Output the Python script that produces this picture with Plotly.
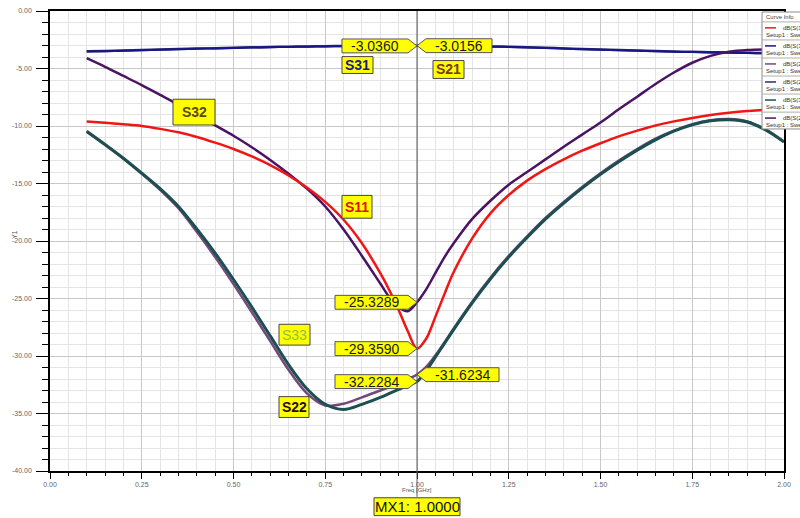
import plotly.graph_objects as go

# ---------------- data ----------------
freq = [0.10, 0.15, 0.20, 0.25, 0.30, 0.35, 0.40, 0.45, 0.50, 0.55, 0.60, 0.65, 0.70, 0.75,
        0.80, 0.85, 0.90, 0.925, 0.95, 0.975, 1.00, 1.025, 1.05, 1.075, 1.10, 1.15, 1.20,
        1.25, 1.30, 1.35, 1.40, 1.45, 1.50, 1.55, 1.60, 1.65, 1.70, 1.75, 1.80, 1.85, 1.90,
        1.95, 2.00]

s11 = [-9.6, -9.72, -9.85, -10.0, -10.25, -10.55, -10.95, -11.45, -12.0, -12.65, -13.4, -14.3,
       -15.35, -16.6, -18.15, -20.2, -22.8, -24.3, -26.0, -27.85, -29.36, -28.5, -26.6, -24.6,
       -22.7, -19.8, -17.6, -16.0, -14.75, -13.75, -12.9, -12.15, -11.5, -10.9, -10.4, -9.95,
       -9.6, -9.3, -9.05, -8.85, -8.7, -8.6, -8.5]

s31 = [-3.53, -3.49, -3.45, -3.41, -3.37, -3.33, -3.29, -3.25, -3.21, -3.18, -3.15, -3.12,
       -3.10, -3.08, -3.06, -3.05, -3.04, -3.04, -3.037, -3.036, -3.036, -3.037, -3.04, -3.045,
       -3.05, -3.07, -3.10, -3.13, -3.17, -3.22, -3.27, -3.32, -3.37, -3.42, -3.46, -3.50,
       -3.54, -3.57, -3.60, -3.63, -3.66, -3.68, -3.70]

s21 = [-3.51, -3.47, -3.43, -3.39, -3.35, -3.31, -3.27, -3.23, -3.19, -3.16, -3.13, -3.10,
       -3.08, -3.06, -3.04, -3.03, -3.02, -3.02, -3.017, -3.016, -3.0156, -3.017, -3.02, -3.025,
       -3.03, -3.05, -3.08, -3.11, -3.15, -3.20, -3.25, -3.30, -3.35, -3.40, -3.44, -3.48,
       -3.52, -3.55, -3.58, -3.61, -3.64, -3.66, -3.68]

s32 = [-4.1, -4.85, -5.65, -6.45, -7.3, -8.15, -9.05, -9.95, -10.85, -11.85, -12.95, -14.15,
       -15.45, -17.0, -19.0, -21.3, -23.7, -24.9, -25.75, -26.1, -25.33, -24.2, -22.8, -21.4,
       -20.2, -18.1, -16.5, -15.1, -14.0, -12.9, -11.8, -10.75, -9.7, -8.55, -7.45, -6.35,
       -5.35, -4.5, -3.9, -3.55, -3.4, -3.35, -3.35]

s22 = [-10.5, -11.65, -12.85, -14.15, -15.55, -17.15, -19.2, -21.4, -23.75, -26.2, -28.7,
       -31.2, -33.25, -34.3, -34.15, -33.6, -33.0, -32.7, -32.35, -32.0, -31.62, -30.95, -29.95,
       -28.8, -27.6, -25.3, -23.2, -21.3, -19.6, -18.0, -16.6, -15.3, -14.1, -13.0, -12.0,
       -11.1, -10.4, -9.85, -9.5, -9.4, -9.6, -10.3, -11.35]

s33 = [-10.45, -11.6, -12.8, -14.1, -15.45, -17.0, -18.95, -21.05, -23.35, -25.75, -28.25, -30.75,
       -32.85, -34.2, -34.65, -34.2, -33.6, -33.25, -32.9, -32.55, -32.23, -31.3, -30.1, -28.9,
       -27.7, -25.4, -23.3, -21.4, -19.7, -18.1, -16.7, -15.4, -14.2, -13.1, -12.1, -11.2,
       -10.45, -9.9, -9.55, -9.45, -9.65, -10.35, -11.4]

marker_freq = 1.0
marker_names = ["S31", "S21", "S32", "S11", "S33", "S22"]
marker_values = [-3.0360, -3.0156, -25.3289, -29.3590, -32.2284, -31.6234]
marker_sides = ["left", "right", "left", "left", "left", "right"]

x_tick_vals = [0.0, 0.25, 0.5, 0.75, 1.0, 1.25, 1.5, 1.75, 2.0]
x_tick_text = ["0.00", "0.25", "0.50", "0.75", "1.00", "1.25", "1.50", "1.75", "2.00"]
y_tick_vals = [0, -5, -10, -15, -20, -25, -30, -35, -40]
y_tick_text = ["0.00", "-5.00", "-10.00", "-15.00", "-20.00", "-25.00", "-30.00", "-35.00", "-40.00"]

legend_names = ["dB(S(1,1))", "dB(S(3,1))", "dB(S(2,2))", "dB(S(2,1))", "dB(S(3,3))", "dB(S(2,3))"]
legend_sweep = "Setup1 : Sweep"

# ---------------- styling ----------------
C_S11 = "#f01616"
C_S31 = "#16168a"
C_S21 = "#2c2c6a"
C_S32 = "#4a1363"
C_S22 = "#74487a"
C_S33 = "#1c4f50"
FONT = "Liberation Sans, Arial, sans-serif"

W, H = 800, 518
L, R, T, B = 50, 16, 7, 47
PW, PH = W - L - R, H - T - B
XR = (0.0, 2.0)
YR = (-40.0, 0.0)


def px(x, y):
    return (x - L) / PW, 1 - (y - T) / PH


def data_to_px(xv, yv):
    return (L + (xv - XR[0]) / (XR[1] - XR[0]) * PW,
            T + (YR[1] - yv) / (YR[1] - YR[0]) * PH)


fig = go.Figure()
series = [(s22, C_S22, 2.5), (s33, C_S33, 3.0), (s21, C_S21, 2.5), (s31, C_S31, 2.0),
          (s32, C_S32, 2.5), (s11, C_S11, 2.5)]
for ys, col, wdt in series:
    fig.add_trace(go.Scatter(x=freq, y=ys, mode="lines",
                             line=dict(color=col, width=wdt, shape="spline", smoothing=0.9),
                             showlegend=False, hoverinfo="skip"))

shapes = []
annotations = []

# marker vertical line
x_m, _ = px(data_to_px(marker_freq, 0)[0], 0)
shapes.append(dict(type="line", xref="paper", yref="paper", x0=x_m, x1=x_m,
                   y0=px(0, 497)[1], y1=1, line=dict(color="#5a5a5a", width=1)))

# marker value tags
for name, val, side in zip(marker_names, marker_values, marker_sides):
    tx, ty = data_to_px(marker_freq, val)
    txt = f"{val:.4f}"
    w = 7 * len(txt) + 17
    h = 14
    tp = 9
    sgn = -1 if side == "left" else 1
    pts = [(tx, ty), (tx + sgn * tp, ty - h / 2), (tx + sgn * (tp + w), ty - h / 2),
           (tx + sgn * (tp + w), ty + h / 2), (tx + sgn * tp, ty + h / 2)]
    pp = [px(a, b) for a, b in pts]
    path = "M " + " L ".join(f"{a:.5f},{b:.5f}" for a, b in pp) + " Z"
    shapes.append(dict(type="path", xref="paper", yref="paper", path=path,
                       fillcolor="#ffff00", line=dict(color="#555555", width=1)))
    cx, cy = px(tx + sgn * (tp + w / 2), ty)
    annotations.append(dict(x=cx, y=cy, xref="paper", yref="paper", text=txt, showarrow=False,
                            xanchor="center", yanchor="middle",
                            font=dict(family=FONT, size=14, color="#1a1a1a")))

# curve name tags (pixel boxes)
name_tags = [("S32", "#5c4a0a", True, 173, 96, 215, 122),
             ("S31", "#1a1a8c", True, 342, 53, 373, 70),
             ("S21", "#7a3a1f", True, 433, 57, 464, 75),
             ("S11", "#e01010", True, 342, 193, 372, 216),
             ("S33", "#8cc43c", False, 279, 323, 310, 344),
             ("S22", "#2a0a0a", True, 279, 396, 309, 417)]
for txt, col, bold, x0, y0, x1, y1 in name_tags:
    a0, b0 = px(x0, y0)
    a1, b1 = px(x1, y1)
    shapes.append(dict(type="rect", xref="paper", yref="paper", x0=a0, x1=a1, y0=b1, y1=b0,
                       fillcolor="#ffff00", line=dict(color="#444444", width=1)))
    cx, cy = px((x0 + x1) / 2, (y0 + y1) / 2)
    annotations.append(dict(x=cx, y=cy, xref="paper", yref="paper",
                            text=f"<b>{txt}</b>" if bold else txt, showarrow=False,
                            xanchor="center", yanchor="middle",
                            font=dict(family=FONT, size=14, color=col)))

# MX1 box
a0, b0 = px(374, 498)
a1, b1 = px(460, 516)
shapes.append(dict(type="rect", xref="paper", yref="paper", x0=a0, x1=a1, y0=b1, y1=b0,
                   fillcolor="#ffff00", line=dict(color="#444444", width=1)))
cx, cy = px(417, 507)
annotations.append(dict(x=cx, y=cy, xref="paper", yref="paper", text=f"MX1: {marker_freq:.4f}",
                        showarrow=False, xanchor="center", yanchor="middle",
                        font=dict(family=FONT, size=15, color="#111111")))

# custom legend box ("Curve Info")
a0, b0 = px(762, 8)
a1, b1 = px(806, 126)
shapes.append(dict(type="rect", xref="paper", yref="paper", x0=a0, x1=a1, y0=b1, y1=b0,
                   fillcolor="#ffffff", line=dict(color="#8a8a8a", width=1)))
cx, cy = px(780, 13)
annotations.append(dict(x=cx, y=cy, xref="paper", yref="paper", text="Curve Info",
                        showarrow=False, xanchor="center", yanchor="middle",
                        font=dict(family=FONT, size=6, color="#444444")))
leg_colors = [C_S11, C_S31, C_S22, C_S21, C_S33, C_S32]
for i, (nm, col) in enumerate(zip(legend_names, leg_colors)):
    top = 18 + 18.2 * i
    s0x, s0y = px(762, top)
    s1x, _ = px(806, top)
    shapes.append(dict(type="line", xref="paper", yref="paper", x0=s0x, x1=s1x, y0=s0y, y1=s0y,
                       line=dict(color="#b0b0b0", width=1)))
    l0x, ly = px(765, top + 6)
    l1x, _ = px(776, top + 6)
    shapes.append(dict(type="line", xref="paper", yref="paper", x0=l0x, x1=l1x, y0=ly, y1=ly,
                       line=dict(color=col, width=1.5)))
    tx, ty = px(781, top + 6)
    annotations.append(dict(x=tx, y=ty, xref="paper", yref="paper", text=nm, showarrow=False,
                            xanchor="left", yanchor="middle",
                            font=dict(family=FONT, size=6, color="#333333")))
    tx, ty = px(764, top + 13)
    annotations.append(dict(x=tx, y=ty, xref="paper", yref="paper", text=legend_sweep,
                            showarrow=False, xanchor="left", yanchor="middle",
                            font=dict(family=FONT, size=6, color="#333333")))

# axis titles
cx, cy = px(417, 490)
annotations.append(dict(x=cx, y=cy, xref="paper", yref="paper", text="Freq [GHz]",
                        showarrow=False, xanchor="center", yanchor="middle",
                        font=dict(family=FONT, size=6, color="#555555")))
cx, cy = px(14, 233)
annotations.append(dict(x=cx, y=cy, xref="paper", yref="paper", text="Y1", textangle=-90,
                        showarrow=False, xanchor="center", yanchor="middle",
                        font=dict(family=FONT, size=7, color="#555555")))

fig.update_layout(
    width=W, height=H,
    margin=dict(l=L, r=R, t=T, b=B, pad=0),
    paper_bgcolor="white", plot_bgcolor="white",
    showlegend=False,
    shapes=shapes, annotations=annotations,
    font=dict(family=FONT),
    xaxis=dict(range=list(XR), tickmode="array", tickvals=x_tick_vals, ticktext=x_tick_text,
               showgrid=True, gridcolor="#c8c8c8", gridwidth=1, zeroline=False,
               showline=True, linecolor="black", linewidth=1.5, mirror=True,
               ticks="outside", ticklen=6, tickcolor="black", tickwidth=1,
               tickfont=dict(size=7, color="#666666", family=FONT),
               minor=dict(tickmode="linear", tick0=0, dtick=0.05, showgrid=True,
                          gridcolor="#e4e4e4", gridwidth=1, ticks="outside", ticklen=3,
                          tickcolor="black")),
    yaxis=dict(range=list(YR), tickmode="array", tickvals=y_tick_vals, ticktext=y_tick_text,
               showgrid=True, gridcolor="#c8c8c8", gridwidth=1, zeroline=False,
               showline=True, linecolor="black", linewidth=1.5, mirror=True,
               ticks="outside", ticklen=12, tickcolor="black", tickwidth=1,
               ticklabelstandoff=3,
               tickfont=dict(size=7, color="#666666", family=FONT),
               minor=dict(tickmode="linear", tick0=0, dtick=1, showgrid=True,
                          gridcolor="#e4e4e4", gridwidth=1, ticks="outside", ticklen=6,
                          tickcolor="black")),
)

fig.write_html("out.html", config={"displayModeBar": False},
               post_script="document.body.style.margin='0';document.body.style.overflow='hidden';")
